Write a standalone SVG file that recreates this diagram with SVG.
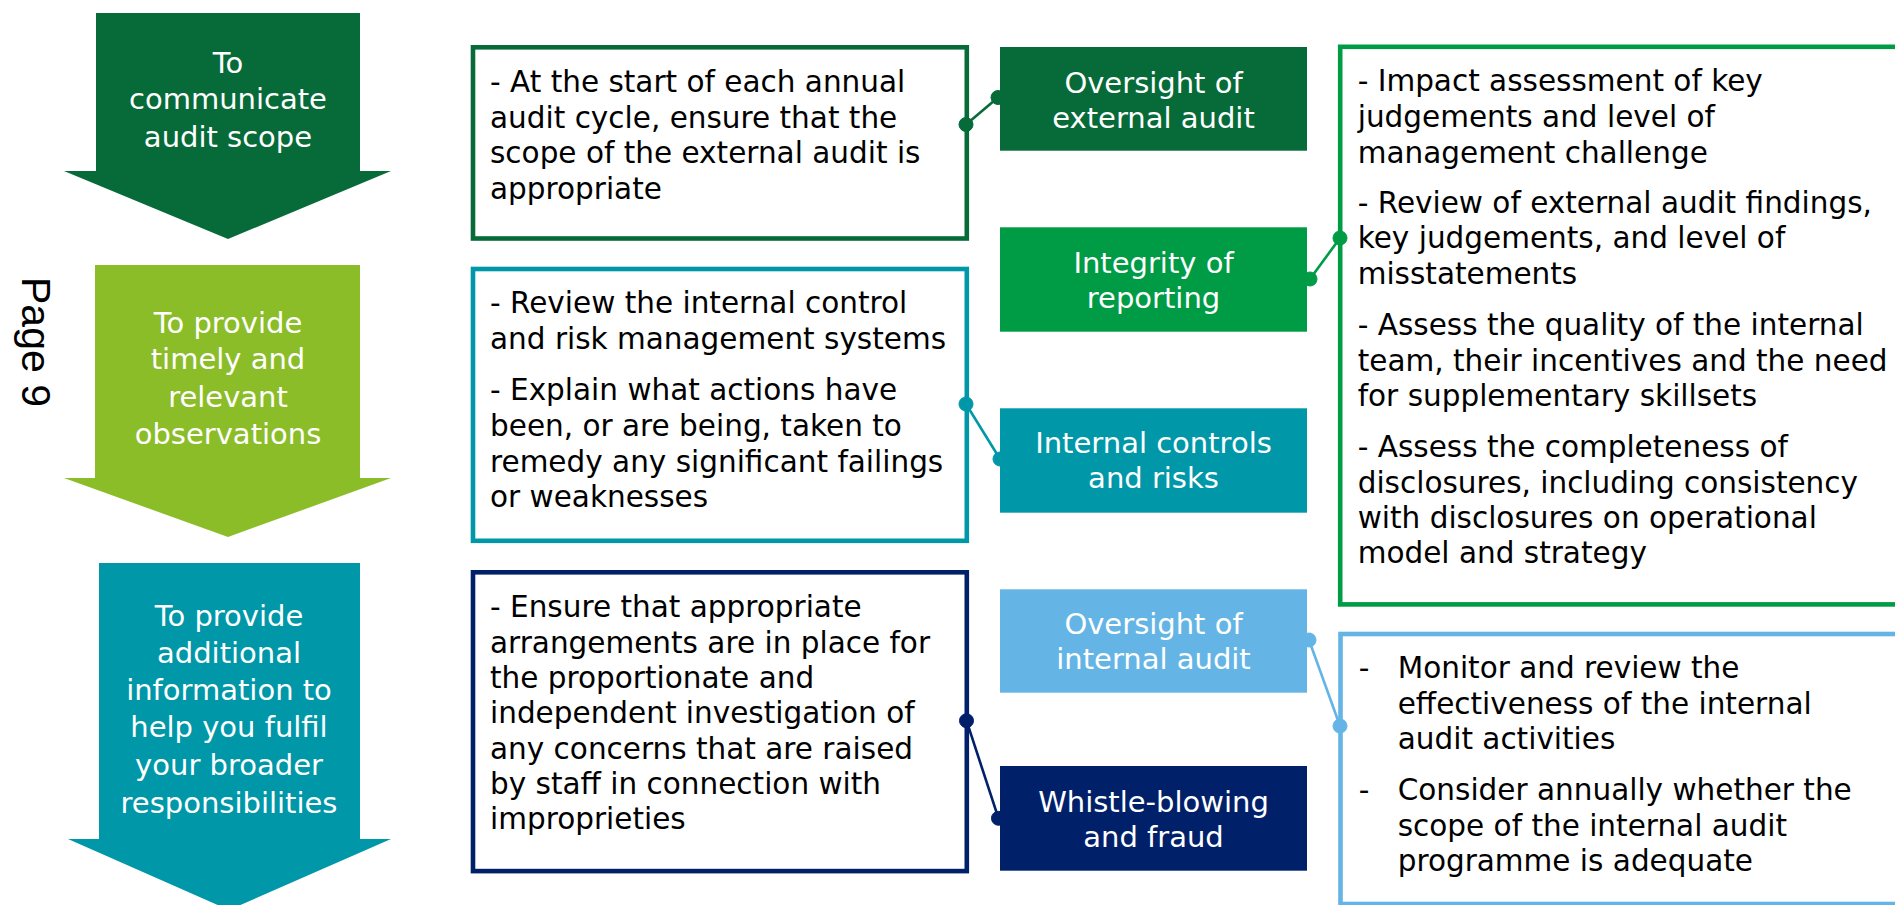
<svg xmlns="http://www.w3.org/2000/svg" width="1895" height="905" viewBox="0 0 1895 905">
<style>
text{font-family:"DejaVu Sans",Verdana,sans-serif}
.w{fill:#ffffff;font-size:29px;text-anchor:middle}
.b{fill:#000000;font-size:29.5px}
.box{fill:#ffffff;stroke-width:4.6}
.conn{stroke-width:2.6;fill:none}
</style>
<rect x="0" y="0" width="1895" height="905" fill="#ffffff"/>
<text transform="translate(22,277) rotate(90)" style="font-family:'Liberation Sans',Arial,sans-serif;font-size:41px" fill="#000000">Page 9</text>

<g id="arrow1">
<path d="M96,13 H360 V171 H391 L228,239 L64,171 H96 Z" fill="#076B39"/>
<text class="w" x="228"><tspan x="228" y="72.7">To</tspan><tspan x="228" y="109.3">communicate</tspan><tspan x="228" y="146.7">audit scope</tspan></text>
</g>
<g id="arrow2">
<path d="M95,265 H360 V478 H391 L228,537 L64,478 H95 Z" fill="#8BBD29"/>
<text class="w"><tspan x="228" y="332.7">To provide</tspan><tspan x="228" y="369.3">timely and</tspan><tspan x="228" y="406.7">relevant</tspan><tspan x="228" y="444">observations</tspan></text>
</g>
<g id="arrow3">
<path d="M99,563 H360 V839 H391 L229,910 L68,839 H99 Z" fill="#0098A8"/>
<text class="w"><tspan x="229" y="626">To provide</tspan><tspan x="229" y="663.3">additional</tspan><tspan x="229" y="700">information to</tspan><tspan x="229" y="737.3">help you fulfil</tspan><tspan x="229" y="775">your broader</tspan><tspan x="229" y="813.3">responsibilities</tspan></text>
</g>

<g id="box-external-scope">
<rect class="box" x="473" y="47.3" width="493.8" height="191.2" stroke="#076B39"/>
<text class="b"><tspan x="490" y="91.7">- At the start of each annual</tspan><tspan x="490" y="127.7">audit cycle, ensure that the</tspan><tspan x="490" y="163.3">scope of the external audit is</tspan><tspan x="490" y="199.3">appropriate</tspan></text>
</g>
<g id="box-internal-control">
<rect class="box" x="473" y="269" width="493.8" height="271.8" stroke="#0098A8"/>
<text class="b"><tspan x="490" y="313.3">- Review the internal control</tspan><tspan x="490" y="349.3">and risk management systems</tspan><tspan x="490" y="400">- Explain what actions have</tspan><tspan x="490" y="436">been, or are being, taken to</tspan><tspan x="490" y="471.7">remedy any significant failings</tspan><tspan x="490" y="506.7">or weaknesses</tspan></text>
</g>
<g id="box-arrangements">
<rect class="box" x="473" y="572.3" width="493.8" height="298.8" stroke="#00216A"/>
<text class="b"><tspan x="490" y="617.3">- Ensure that appropriate</tspan><tspan x="490" y="652.7">arrangements are in place for</tspan><tspan x="490" y="688.3">the proportionate and</tspan><tspan x="490" y="723.3">independent investigation of</tspan><tspan x="490" y="759">any concerns that are raised</tspan><tspan x="490" y="794.3">by staff in connection with</tspan><tspan x="490" y="829.3">improprieties</tspan></text>
</g>

<g id="oversight-external">
<rect x="1000" y="47" width="307" height="103.7" fill="#076B39"/>
<text class="w"><tspan x="1153.5" y="92.7">Oversight of</tspan><tspan x="1153.5" y="127.7">external audit</tspan></text>
</g>
<g id="integrity-reporting">
<rect x="1000" y="227.3" width="307" height="104.4" fill="#009B45"/>
<text class="w"><tspan x="1153.5" y="273.3">Integrity of</tspan><tspan x="1153.5" y="308.3">reporting</tspan></text>
</g>
<g id="internal-controls">
<rect x="1000" y="408.3" width="307" height="104.4" fill="#0098A8"/>
<text class="w"><tspan x="1153.5" y="452.7">Internal controls</tspan><tspan x="1153.5" y="488.3">and risks</tspan></text>
</g>
<g id="oversight-internal">
<rect x="1000" y="589.3" width="307" height="103.4" fill="#64B5E5"/>
<text class="w"><tspan x="1153.5" y="634.3">Oversight of</tspan><tspan x="1153.5" y="669.3">internal audit</tspan></text>
</g>
<g id="whistle-blowing">
<rect x="1000" y="766" width="307" height="104.7" fill="#00216A"/>
<text class="w"><tspan x="1153.5" y="811.7">Whistle-blowing</tspan><tspan x="1153.5" y="847.3">and fraud</tspan></text>
</g>

<g id="box-reporting">
<rect class="box" x="1340.2" y="46.8" width="700" height="557.6" stroke="#009B45"/>
<text class="b"><tspan x="1357.7" y="90.7">- Impact assessment of key</tspan><tspan x="1357.7" y="127.3">judgements and level of</tspan><tspan x="1357.7" y="162.7">management challenge</tspan><tspan x="1357.7" y="213.3">- Review of external audit findings,</tspan><tspan x="1357.7" y="248.3">key judgements, and level of</tspan><tspan x="1357.7" y="284">misstatements</tspan><tspan x="1357.7" y="335">- Assess the quality of the internal</tspan><tspan x="1357.7" y="370.7">team, their incentives and the need</tspan><tspan x="1357.7" y="406">for supplementary skillsets</tspan><tspan x="1357.7" y="457.3">- Assess the completeness of</tspan><tspan x="1357.7" y="493.3">disclosures, including consistency</tspan><tspan x="1357.7" y="528.3">with disclosures on operational</tspan><tspan x="1357.7" y="563.3">model and strategy</tspan></text>
</g>
<g id="box-internal-audit">
<rect class="box" x="1340.5" y="634" width="700" height="270" stroke="#64B5E5"/>
<text class="b"><tspan x="1358.8" y="678.3">-</tspan><tspan x="1397.7" y="678.3">Monitor and review the</tspan><tspan x="1397.7" y="714.3">effectiveness of the internal</tspan><tspan x="1397.7" y="749.3">audit activities</tspan><tspan x="1358.8" y="800">-</tspan><tspan x="1397.7" y="800">Consider annually whether the</tspan><tspan x="1397.7" y="836">scope of the internal audit</tspan><tspan x="1397.7" y="870.7">programme is adequate</tspan></text>
</g>

<g id="connectors">
<g stroke="#076B39" fill="#076B39"><line class="conn" x1="966" y1="124.5" x2="998" y2="97.5"/><circle cx="966" cy="124.5" r="7"/><circle cx="998" cy="97.5" r="7"/></g>
<g stroke="#009B45" fill="#009B45"><line class="conn" x1="1310" y1="279" x2="1340" y2="238"/><circle cx="1310" cy="279" r="7"/><circle cx="1340" cy="238" r="7"/></g>
<g stroke="#0098A8" fill="#0098A8"><line class="conn" x1="966" y1="404" x2="1000" y2="459"/><circle cx="966" cy="404" r="7"/><circle cx="1000" cy="459" r="7"/></g>
<g stroke="#64B5E5" fill="#64B5E5"><line class="conn" x1="1309" y1="640" x2="1340" y2="726"/><circle cx="1309" cy="640" r="7"/><circle cx="1340" cy="726" r="7"/></g>
<g stroke="#00216A" fill="#00216A"><line class="conn" x1="966.5" y1="720.7" x2="998.5" y2="818.3"/><circle cx="966.5" cy="720.7" r="7"/><circle cx="998.5" cy="818.3" r="7"/></g>
</g>
</svg>
